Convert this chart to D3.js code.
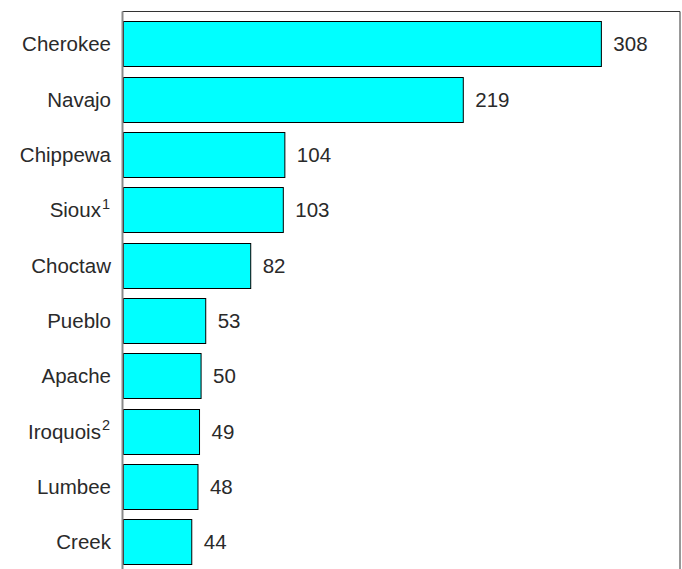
<!DOCTYPE html>
<html>
<head>
<meta charset="utf-8">
<script src="https://cdn.jsdelivr.net/npm/d3@7"></script>
<style>
  html, body { margin: 0; padding: 0; background: #fff; }
  svg { display: block; }
  text { font-family: "Liberation Sans", Arial, Helvetica, sans-serif; fill: #2a2a2a; }
</style>
</head>
<body>
<svg id="chart" width="682" height="569"></svg>
<script>
// Tribal groupings, largest first (values in thousands)
const tribes = ["Cherokee", "Navajo", "Chippewa", "Sioux", "Choctaw", "Pueblo", "Apache", "Iroquois", "Lumbee", "Creek"];
const notes = ["", "", "", "1", "", "", "", "2", "", ""];
const counts = [308, 219, 104, 103, 82, 53, 50, 49, 48, 44];

const W = 682, H = 569;
const frame = { left: 122.5, top: 11.5, right: 680 };

const svg = d3.select("#chart");

const x = d3.scaleLinear().domain([0, 359]).range([123, 680]);
const y = d3.scaleBand().domain(tribes).range([16.3, 569.6])
  .paddingInner(0.18).paddingOuter(0.09);

const rows = tribes.map((t, i) => ({ name: t, note: notes[i], value: counts[i] }));

// Plot frame: top and right edges
svg.append("path")
  .attr("d", `M${frame.left},${frame.top}H${frame.right}V${H + 2}`)
  .attr("fill", "none")
  .attr("stroke", "#333")
  .attr("stroke-width", 1);

// Bars
svg.append("g").selectAll("rect")
  .data(rows)
  .join("rect")
  .attr("x", x(0) + 0.5)
  .attr("y", d => Math.round(y(d.name)) + 0.5)
  .attr("width", d => x(d.value) - x(0))
  .attr("height", Math.round(y.bandwidth()))
  .attr("fill", "#00ffff")
  .attr("stroke", "#000")
  .attr("stroke-width", 1);

// Category axis line
svg.append("line")
  .attr("x1", frame.left).attr("x2", frame.left)
  .attr("y1", frame.top).attr("y2", H + 2)
  .attr("stroke", "#8a8a8a")
  .attr("stroke-width", 2);

// Category labels, with footnote markers as superscripts
const labels = svg.append("g").selectAll("text")
  .data(rows)
  .join("text")
  .attr("x", d => d.note ? 110 : 111)
  .attr("y", d => y(d.name) + y.bandwidth() / 2)
  .attr("dy", "0.36em")
  .attr("text-anchor", "end")
  .attr("font-size", 20.5);
labels.append("tspan").text(d => d.name);
labels.filter(d => d.note).append("tspan")
  .attr("font-size", 14.5)
  .attr("dy", "-0.6em")
  .attr("dx", 1)
  .text(d => d.note);

// Value labels
svg.append("g").selectAll("text")
  .data(rows)
  .join("text")
  .attr("x", d => x(d.value) + 12.5)
  .attr("y", d => y(d.name) + y.bandwidth() / 2)
  .attr("dy", "0.36em")
  .attr("font-size", 20.5)
  .text(d => d.value);
</script>
</body>
</html>
